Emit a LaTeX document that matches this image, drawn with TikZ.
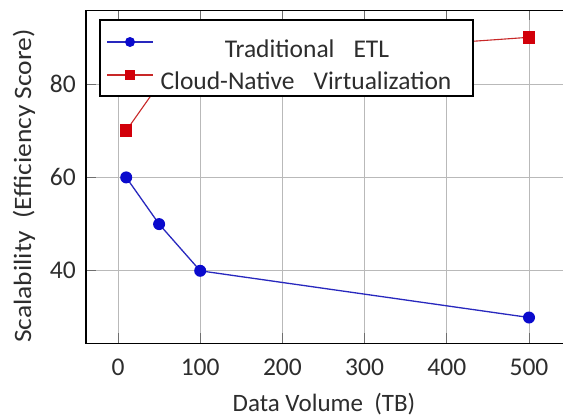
\documentclass[tikz,border=0pt]{standalone}
\usepackage{fontspec}
\setmainfont{Carlito}
\definecolor{txt}{RGB}{45,45,45}
\definecolor{gridc}{RGB}{185,185,185}
\definecolor{tickc}{RGB}{110,110,110}
\definecolor{etlblue}{RGB}{10,10,205}
\definecolor{etlline}{RGB}{40,40,190}
\definecolor{cnred}{RGB}{210,0,10}
\definecolor{cnline}{RGB}{200,40,40}
\tikzset{
  gridline/.style={draw=gridc, line width=0.8pt},
  tickmark/.style={draw=tickc, line width=0.8pt},
  ticklabel/.style={text=txt, font=\fontsize{25.5}{30}\selectfont, inner sep=0pt},
  axislabel/.style={text=txt, font=\fontsize{25}{30}\selectfont, inner sep=0pt},
  legendtext/.style={text=txt, font=\fontsize{25.5}{30}\selectfont, inner sep=0pt},
  etlpath/.style={draw=etlline, line width=1.3pt},
  cnpath/.style={draw=cnline, line width=1.1pt},
  etldot/.style={circle, fill=etlblue, inner sep=0pt, minimum size=12pt},
  cnsquare/.style={rectangle, fill=cnred, inner sep=0pt, minimum size=12.5pt},
}
\begin{document}
\begin{tikzpicture}[x=1pt, y=1pt]
  \useasboundingbox (0,0) rectangle (563,-418);
  \clip (0,0) rectangle (563,-418);
  \fill[white] (0,0) rectangle (563,-418);

  % data coordinate system: x in TB, y in score
  \begin{scope}[x=0.822pt, y=4.67pt, shift={(118pt,-457.6pt)}]
    % frame corners
    \coordinate (bl) at (-39,24.5);
    \coordinate (tr) at (560,95.8);
    % grid
    \foreach \gx in {0,100,...,500}
      \draw[gridline] (\gx,24.5) -- (\gx,95.8);
    \foreach \gy in {40,60,80}
      \draw[gridline] (-39,\gy) -- (560,\gy);
    % ticks
    \foreach \gx in {0,100,...,500} {
      \draw[tickmark] (\gx,24.5) -- ++(0,10pt);
      \draw[tickmark] (\gx,95.8) -- ++(0,-10pt);
    }
    \foreach \gy in {40,60,80}
      \draw[tickmark] (-39,\gy) -- ++(10pt,0);
    % tick labels
    \foreach \gx in {0,100,...,500}
      \node[ticklabel] (xl\gx) at (\gx,24.5) [yshift=-24pt] {\gx};
    \foreach \gy in {40,60,80}
      \node[ticklabel, anchor=east] (yl\gy) at (-39,\gy) [xshift=-10pt] {\gy};

    % Cloud-Native Virtualization series
    \coordinate (c1) at (10,70);
    \coordinate (c2) at (50,80);
    \coordinate (c3) at (100,85);
    \coordinate (c4) at (500,90);
    \draw[cnpath] (c1) -- (c2) -- (c3) -- (c4);
    \foreach \p in {c1,c2,c3,c4}
      \node[cnsquare] at (\p) {};

    % Traditional ETL series
    \coordinate (e1) at (10,60);
    \coordinate (e2) at (50,50);
    \coordinate (e3) at (100,40);
    \coordinate (e4) at (500,30);
    \draw[etlpath] (e1) -- (e2) -- (e3) -- (e4);
    \foreach \p in {e1,e2,e3,e4}
      \node[etldot] at (\p) {};

    % frame
    \draw[black, line width=1.3pt] (bl) rectangle (tr);
  \end{scope}

  % axis titles
  \node[axislabel] (xtitle) at (324,-404) {Data Volume\ \ (TB)};
  \node[axislabel, rotate=90] (ytitle) at (24,-186) {\scalebox{1.1}[1]{Scalability\ \ (Efficiency Score)}};

  % legend
  \node[draw=black, line width=1.3pt, fill=white, minimum width=373pt, minimum height=76pt, inner sep=0pt] (legend) at (286.5,-58) {};
  \node[legendtext] (leg1) at (307,-49) {Traditional\hspace{19pt}ETL};
  \node[legendtext] (leg2) at (306,-81) {Cloud-Native\hspace{19pt}Virtualization};
  \coordinate (l1a) at (107,-42);
  \coordinate (l1b) at (153,-42);
  \coordinate (l2a) at (107,-75);
  \coordinate (l2b) at (153,-75);
  \draw[etlpath] (l1a) -- (l1b);
  \node[etldot, minimum size=10pt] (lm1) at (130,-42) {};
  \draw[cnpath] (l2a) -- (l2b);
  \node[cnsquare, minimum size=10pt] (lm2) at (130,-75) {};
\end{tikzpicture}
\end{document}
